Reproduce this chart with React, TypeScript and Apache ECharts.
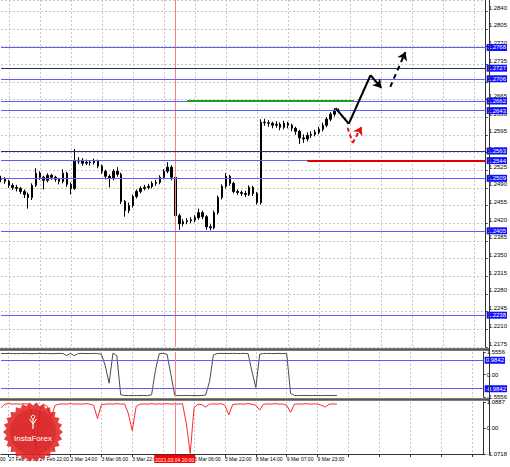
import React, { useEffect, useRef } from 'react';
import * as echarts from 'echarts';

const FONT = '"Liberation Sans Narrow", "Liberation Sans", Arial, sans-serif';

// ---- time axis ----
const slotCount = 126;
const labelStart = 2;
const labelStep = 8;
const timeLabels = ['27 Feb 06:00', '27 Feb 22:00', '2 Mar 14:00', '3 Mar 06:00', '3 Mar 22:00', '', '5 Mar 06:00', '5 Mar 22:00', '8 Mar 14:00', '9 Mar 07:00', '9 Mar 23:00'];
const markerIndex = 45;
const markerLabel = '2021.03.04 20:00';

// ---- price bars ----
const firstOpen = 1.2509;
const closes = [
  1.2507, 1.2503, 1.2495, 1.2491, 1.2489, 1.2483, 1.2477, 1.2471, 1.2495, 1.2519,
  1.2511, 1.2505, 1.2515, 1.2511, 1.2507, 1.2503, 1.2519, 1.2497, 1.2489, 1.2543,
  1.2545, 1.2539, 1.2541, 1.2540, 1.2543, 1.2533, 1.2523, 1.2513, 1.2509, 1.2523,
  1.2517, 1.2463, 1.2445, 1.2455, 1.2473, 1.2483, 1.2489, 1.2491, 1.2493, 1.2499,
  1.2501, 1.2511, 1.2523, 1.2531, 1.2511, 1.2435, 1.2419, 1.2423, 1.2425, 1.2427,
  1.2431, 1.2441, 1.2433, 1.2413, 1.2411, 1.2441, 1.2471, 1.2493, 1.2513, 1.2499,
  1.2483, 1.2481, 1.2479, 1.2477, 1.2491, 1.2479, 1.2461, 1.2620, 1.2619, 1.2618,
  1.2614, 1.2616, 1.2610, 1.2618, 1.2614, 1.2608, 1.2602, 1.2589, 1.2587, 1.2594,
  1.2596, 1.2600, 1.2606, 1.2614, 1.2626, 1.2636, 1.2644, 1.2642,
];
const highs = [
  1.2514, 1.2511, 1.2506, 1.2499, 1.2496, 1.2492, 1.2487, 1.2481, 1.2499, 1.2529,
  1.2523, 1.2514, 1.2519, 1.2518, 1.2514, 1.2510, 1.2527, 1.2522, 1.2501, 1.2567,
  1.2551, 1.2549, 1.2546, 1.2545, 1.2548, 1.2546, 1.2536, 1.2526, 1.2517, 1.2527,
  1.2531, 1.2520, 1.2466, 1.2461, 1.2477, 1.2487, 1.2493, 1.2496, 1.2498, 1.2503,
  1.2506, 1.2515, 1.2527, 1.2541, 1.2535, 1.2514, 1.2439, 1.2428, 1.2430, 1.2432,
  1.2436, 1.2449, 1.2445, 1.2436, 1.2418, 1.2445, 1.2475, 1.2497, 1.2519, 1.2516,
  1.2502, 1.2487, 1.2485, 1.2484, 1.2495, 1.2494, 1.2482, 1.2626, 1.2627, 1.2624,
  1.2621, 1.2622, 1.2620, 1.2623, 1.2621, 1.2617, 1.2611, 1.2605, 1.2596, 1.2600,
  1.2602, 1.2605, 1.2611, 1.2619, 1.2630, 1.2640, 1.2648, 1.2647,
];
const lows = [
  1.2501, 1.2498, 1.2490, 1.2486, 1.2483, 1.2478, 1.2470, 1.2449, 1.2466, 1.2492,
  1.2506, 1.2487, 1.2501, 1.2506, 1.2502, 1.2497, 1.2499, 1.2492, 1.2477, 1.2486,
  1.2537, 1.2534, 1.2535, 1.2534, 1.2536, 1.2529, 1.2518, 1.2507, 1.2491, 1.2505,
  1.2512, 1.2458, 1.2433, 1.2440, 1.2451, 1.2469, 1.2479, 1.2485, 1.2487, 1.2489,
  1.2494, 1.2497, 1.2507, 1.2519, 1.2505, 1.2429, 1.2407, 1.2414, 1.2418, 1.2420,
  1.2422, 1.2427, 1.2428, 1.2407, 1.2406, 1.2408, 1.2437, 1.2467, 1.2489, 1.2494,
  1.2479, 1.2476, 1.2474, 1.2472, 1.2474, 1.2474, 1.2457, 1.2457, 1.2613, 1.2611,
  1.2608, 1.2609, 1.2604, 1.2606, 1.2608, 1.2602, 1.2595, 1.2577, 1.2579, 1.2582,
  1.2589, 1.2592, 1.2596, 1.2602, 1.2610, 1.2622, 1.2631, 1.2638,
];

const priceMin = 1.2175;
const priceMax = 1.2862;
const priceStep = 0.0035;

// ---- horizontal levels & drawings ----
const levels = [1.2768, 1.2727, 1.2706, 1.2662, 1.2643, 1.2563, 1.2544, 1.2509, 1.2405, 1.2238];
const darkLevels = [1.2727, 1.2563];
const greenSegment = [48, 91, 1.2662];
const redSegment = [79, 125, 1.2544];
const forecastPath = [[86.3, 1.2648], [89.7, 1.2617], [95.3, 1.2713], [98.1, 1.2688]];
const forecastDashed = [[100.4, 1.269], [104.3, 1.2759]];
const altPath = [[89.4, 1.2609], [90.7, 1.2579], [93.0, 1.2611]];

// ---- indicator 1 ----
const oscA = [
  1.45, 1.45, 1.46, 1.45, 1.44, 1.45, 1.46, 1.45, 1.44, 1.45,
  1.46, 1.45, 1.45, 1.44, 1.45, 1.46, 1.45, 1.32, 1.45, 1.30,
  1.45, 1.46, 1.45, 1.45, 1.46, 1.45, 1.40, 0.60, -0.60, 1.48,
  1.30, -1.40, -1.45, -1.46, -1.45, -1.46, -1.45, -1.45, -1.46, -1.40,
  0.30, 1.45, 1.46, 1.40, 0.00, -1.45, -1.46, -1.45, -1.45, -1.46,
  -1.45, -1.46, -1.45, -1.42, -0.50, 1.35, 1.45, 1.46, 1.45, 1.45,
  1.46, 1.45, 1.45, 1.46, 1.44, 0.20, -0.90, 1.40, 1.45, 1.46,
  1.45, 1.45, 1.46, 1.45, 1.44, -1.30, -1.45, -1.46, -1.45, -1.45,
  -1.46, -1.45, -1.45, -1.46, -1.45, -1.45, -1.46, -1.45,
];
const oscALevels = [0.9842, -0.9842];
const oscARange = [-1.5556, 1.5556];

// ---- indicator 2 ----
const oscB = [
  0.85, 1.00, 1.02, 1.00, 1.01, 1.00, 1.02, 1.00, 0.60, -0.85,
  0.70, 1.00, 0.90, 0.45, 0.95, 1.00, 1.01, 1.00, 1.02, 1.00,
  1.01, 1.00, 1.02, 1.00, 0.95, 0.40, 0.98, 1.00, 1.01, 1.00,
  1.02, 1.00, 1.01, 0.60, -0.10, 0.90, 1.00, 1.01, 1.00, 1.02,
  1.00, 1.01, 1.00, 1.02, 1.00, 1.01, 1.00, 1.02, 0.20, -1.05,
  0.85, 1.00, 0.98, 0.88, 1.00, 1.01, 1.00, 1.02, 0.95, 0.55,
  0.98, 1.00, 1.01, 1.00, 1.02, 1.00, 0.95, 0.75, 1.00, 1.01,
  1.00, 1.02, 1.00, 1.01, 0.95, 0.66, 1.00, 1.01, 1.00, 1.02,
  1.00, 1.01, 1.00, 0.95, 0.88, 1.00, 1.01, 1.00,
];
const oscBRange = [-1.0718, 1.0887];
const oscBStep = 1.0718;

const isLabelSlot = (i: number) => i >= labelStart && (i - labelStart) % labelStep === 0;

function buildOption() {
  const categories = Array.from({ length: slotCount }, (_, i) => 's' + i);
  const candleData = closes.map((c, i) => [i === 0 ? firstOpen : closes[i - 1], c, lows[i], highs[i]]);

  const blueLabel = (text: string) => ({
    show: true, position: 'end', distance: 1, formatter: text,
    color: '#fff', backgroundColor: '#1010ff', padding: [1, 1, 0, 1],
    fontSize: 6, fontFamily: FONT,
  });
  const markerStyle = { color: '#ff8080', width: 1, type: 'solid' };
  const gridSplit = { show: true, interval: (i: number) => isLabelSlot(i), lineStyle: { color: '#c8c8c8', type: [2, 2], width: 1 } };

  const segs = (path: number[][], style: any, arrow: boolean) => {
    const out: any[] = [];
    for (let k = 0; k < path.length - 1; k++) {
      const last = k === path.length - 2;
      out.push([
        { coord: path[k], symbol: 'none', lineStyle: style, label: { show: false } },
        { coord: path[k + 1], symbol: last && arrow ? 'arrow' : 'none' },
      ]);
    }
    return out;
  };

  const catAxis = (gridIndex: number, bottom: boolean) => ({
    type: 'category', gridIndex, data: categories, boundaryGap: false,
    axisLine: { show: bottom, onZero: false, lineStyle: { color: '#333', width: 1 } },
    axisTick: { show: bottom, interval: (i: number) => isLabelSlot(i), length: 3, lineStyle: { color: '#333' } },
    axisLabel: {
      show: bottom, interval: (i: number) => isLabelSlot(i), align: 'left', margin: 2,
      fontSize: 5, color: '#000', fontFamily: FONT,
      formatter: (_v: string, idx: number) => (isLabelSlot(idx) ? timeLabels[(idx - labelStart) / labelStep] ?? '' : ''),
    },
    splitLine: gridSplit,
  });

  const starPoints: number[][] = [];
  const spikes = 26;
  for (let k = 0; k < spikes * 2; k++) {
    const a = (Math.PI * k) / spikes;
    const r = k % 2 === 0 ? 30 : 26.5;
    starPoints.push([33 + r * Math.cos(a), 432 + r * Math.sin(a)]);
  }

  return {
    animation: false,
    backgroundColor: '#fff',
    grid: [
      { left: 1, right: 21, top: 0, height: 347 },
      { left: 1, right: 21, top: 352, height: 45 },
      { left: 1, right: 21, top: 402, height: 52 },
    ],
    xAxis: [
      catAxis(0, false),
      catAxis(1, false),
      catAxis(2, true),
      { type: 'value', gridIndex: 0, min: 0, max: slotCount - 1, show: false },
    ],
    yAxis: [
      { type: 'value', gridIndex: 0, min: priceMin, max: priceMax, show: false },
      {
        type: 'value', gridIndex: 0, position: 'right', min: 0, max: priceMax - priceMin, interval: priceStep,
        axisLine: { show: true, onZero: false, lineStyle: { color: '#333' } },
        axisTick: { show: true, length: 2, lineStyle: { color: '#333' } },
        axisLabel: {
          showMaxLabel: false, margin: 3, fontSize: 6, color: '#000', fontFamily: FONT,
          verticalAlign: 'bottom', lineHeight: 7,
          formatter: (v: number) => (priceMin + v).toFixed(4),
        },
        splitLine: { show: true, lineStyle: { color: '#c8c8c8', type: [2, 2] } },
      },
      {
        type: 'value', gridIndex: 1, position: 'right', min: oscARange[0], max: oscARange[1], interval: oscARange[1],
        axisLine: { show: true, onZero: false, lineStyle: { color: '#333' } },
        axisTick: { show: true, length: 2 },
        axisLabel: { margin: 3, fontSize: 6, color: '#000', fontFamily: FONT, formatter: (v: number) => (Math.abs(v) < 1e-9 ? '0.00' : v.toFixed(4)) },
        splitLine: { show: false },
      },
      {
        type: 'value', gridIndex: 2, position: 'right', min: oscBRange[0], max: oscBRange[1], interval: oscBStep,
        axisLine: { show: true, onZero: false, lineStyle: { color: '#333' } },
        axisTick: { show: true, length: 2 },
        axisLabel: {
          margin: 3, fontSize: 6, color: '#000', fontFamily: FONT,
          formatter: (v: number) => (Math.abs(v) < 1e-9 ? '0.00' : Math.abs(v - oscBStep) < 1e-6 ? '' : v.toFixed(4)),
        },
        splitLine: { show: false },
      },
    ],
    series: [
      {
        type: 'candlestick', xAxisIndex: 0, yAxisIndex: 0, data: candleData, barWidth: 2,
        itemStyle: { color: '#000', color0: '#000', borderColor: '#000', borderColor0: '#000', borderWidth: 1 },
        markLine: {
          silent: true, symbol: ['none', 'none'], animation: false, precision: 4,
          data: [
            { xAxis: markerIndex, lineStyle: markerStyle, label: { show: false } },
            ...levels.map((v) => ({
              yAxis: v,
              lineStyle: { color: darkLevels.includes(v) ? '#2e2e66' : '#5c5cff', width: 1, type: 'solid' },
              label: blueLabel(v.toFixed(4)),
            })),
            [
              { coord: [greenSegment[0], greenSegment[2]], lineStyle: { color: '#1f9f1f', width: 2, type: 'solid' }, label: { show: false } },
              { coord: [greenSegment[1], greenSegment[2]] },
            ],
            [
              { coord: [redSegment[0], redSegment[2]], lineStyle: { color: '#e00000', width: 2, type: 'solid' }, label: { show: false } },
              { coord: [redSegment[1], redSegment[2]] },
            ],
          ],
        },
      },
      {
        type: 'line', xAxisIndex: 3, yAxisIndex: 0, data: forecastPath, symbol: 'none', silent: true,
        lineStyle: { opacity: 0 },
        markLine: {
          silent: true, symbol: ['none', 'none'], symbolSize: 8, animation: false, precision: 4,
          data: [
            ...segs(forecastPath, { color: '#000', width: 2, type: 'solid' }, true),
            ...segs(forecastDashed, { color: '#000', width: 2, type: [5, 4] }, true),
            ...segs(altPath, { color: '#e81010', width: 2, type: [4, 3] }, true),
          ],
        },
      },
      {
        type: 'line', xAxisIndex: 1, yAxisIndex: 2, data: oscA, symbol: 'none', silent: true,
        lineStyle: { color: '#4a4a4a', width: 1 },
        markLine: {
          silent: true, symbol: ['none', 'none'], animation: false, precision: 4,
          data: [
            ...oscALevels.map((v) => ({ yAxis: v, lineStyle: { color: '#5c5cff', width: 1, type: 'solid' }, label: blueLabel(v.toFixed(4)) })),
            { xAxis: markerIndex, lineStyle: markerStyle, label: { show: false } },
          ],
        },
      },
      {
        type: 'line', xAxisIndex: 2, yAxisIndex: 3, data: oscB, symbol: 'none', silent: true,
        lineStyle: { color: '#ff2a2a', width: 1 },
        markLine: {
          silent: true, symbol: ['none', 'none'], animation: false,
          data: [
            {
              xAxis: markerIndex, lineStyle: markerStyle,
              label: {
                show: true, position: 'start', distance: 1, formatter: markerLabel,
                color: '#fff', backgroundColor: '#ff0000', padding: [2, 1, 1, 1], fontSize: 5, fontFamily: FONT,
              },
            },
          ],
        },
      },
    ],
    graphic: [
      { type: 'line', shape: { x1: 0, y1: 349.5, x2: 489, y2: 349.5 }, style: { stroke: '#555', lineWidth: 2.5 }, z: 90 },
      { type: 'line', shape: { x1: 0, y1: 399.5, x2: 489, y2: 399.5 }, style: { stroke: '#555', lineWidth: 2.5 }, z: 90 },
      { type: 'line', shape: { x1: 489.5, y1: 0, x2: 489.5, y2: 455 }, style: { stroke: '#333', lineWidth: 1 }, z: 90 },
      { type: 'text', x: 0, y: 456, style: { text: '00', fill: '#000', font: '5px ' + FONT }, z: 90 },
      { type: 'polygon', shape: { points: starPoints }, style: { fill: 'rgba(226,36,36,0.88)' }, z: 100 },
      { type: 'circle', shape: { cx: 33, cy: 432, r: 23 }, style: { fill: 'rgba(200,20,20,0.35)' }, z: 101 },
      {
        type: 'text', x: 33, y: 438, z: 102,
        style: { text: 'InstaForex', fill: '#fff', font: '8px "Liberation Sans", Arial, sans-serif', align: 'center', verticalAlign: 'middle', textAlign: 'center', textVerticalAlign: 'middle' },
      },
      { type: 'circle', shape: { cx: 33, cy: 417, r: 1.8 }, style: { fill: 'none', stroke: '#fff', lineWidth: 1 }, z: 102 },
      { type: 'polyline', shape: { points: [[29.5, 419], [33, 424], [36.5, 419]] }, style: { stroke: '#fff', lineWidth: 1, fill: 'none' }, z: 102 },
      { type: 'line', shape: { x1: 33, y1: 419, x2: 33, y2: 429 }, style: { stroke: '#fff', lineWidth: 1.2 }, z: 102 },
    ],
  };
}

export default function App() {
  const ref = useRef<HTMLDivElement>(null);
  useEffect(() => {
    if (!ref.current) return;
    const chart = echarts.init(ref.current, null, { renderer: 'svg' });
    chart.setOption(buildOption() as any);
    return () => chart.dispose();
  }, []);
  return <div ref={ref} style={{ position: 'fixed', left: 0, top: 0, width: 510, height: 467, background: '#fff' }} />;
}
